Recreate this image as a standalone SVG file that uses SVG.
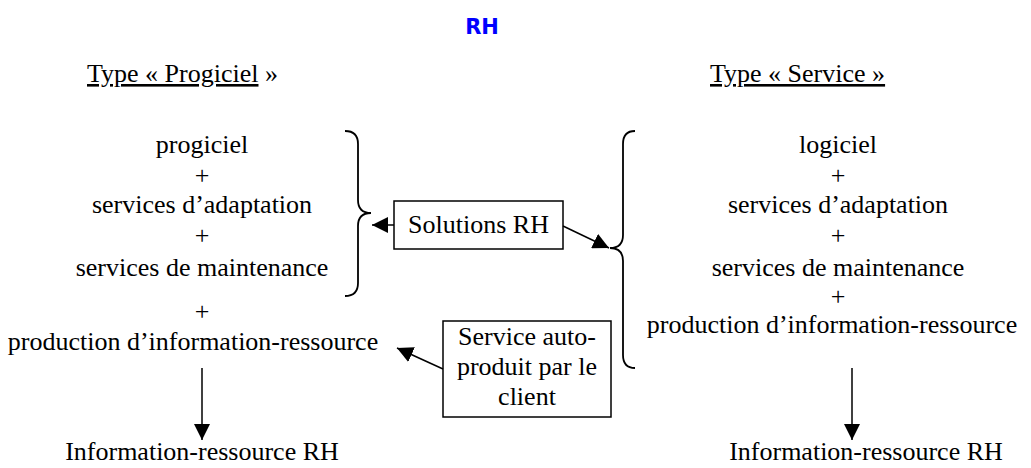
<svg xmlns="http://www.w3.org/2000/svg" width="1031" height="468" viewBox="0 0 1031 468">
  <style>
    .t { font-family: "Liberation Serif", "Times New Roman", serif; font-size: 26px; fill: #000; }
    .c { text-anchor: middle; }
    .u { text-decoration: underline; }
    .title { font-family: "DejaVu Sans", sans-serif; font-weight: bold; font-size: 21px; fill: #0000FF; text-anchor: middle; }
    .box { fill: #fff; stroke: #000; stroke-width: 1.5; }
    .brace { fill: none; stroke: #000; stroke-width: 1.8; }
    .line { fill: none; stroke: #000; stroke-width: 1.5; }
  </style>
  <defs>
    <marker id="ahb" viewBox="0 0 10 10" refX="10" refY="5" markerWidth="16" markerHeight="16" markerUnits="userSpaceOnUse" orient="auto">
      <path d="M0,0 L10,5 L0,10 Z" fill="#000"/>
    </marker>
  </defs>

  <g id="title">
    <text class="title" x="482" y="34">RH</text>
  </g>

  <g id="heading-progiciel">
    <text class="t" x="87" y="82"><tspan class="u">Type « Progiciel</tspan> »</text>
  </g>
  <g id="heading-service">
    <text class="t u" x="710" y="82">Type « Service »</text>
  </g>

  <g id="left-column">
    <text class="t c" x="202" y="153">progiciel</text>
    <text class="t c" x="202" y="184">+</text>
    <text class="t c" x="202" y="213">services d’adaptation</text>
    <text class="t c" x="202" y="244">+</text>
    <text class="t c" x="202" y="276">services de maintenance</text>
    <text class="t c" x="202" y="320">+</text>
    <text class="t c" x="193" y="350">production d’information-ressource</text>
  </g>

  <g id="right-column">
    <text class="t c" x="838" y="153">logiciel</text>
    <text class="t c" x="838" y="184">+</text>
    <text class="t c" x="838" y="213">services d’adaptation</text>
    <text class="t c" x="838" y="244">+</text>
    <text class="t c" x="838" y="276">services de maintenance</text>
    <text class="t c" x="838" y="305">+</text>
    <text class="t c" x="832" y="333">production d’information-ressource</text>
  </g>

  <g id="left-brace">
    <path class="brace" d="M345,131 Q358,131 358,144 L358,200 Q358,213 371,213 Q358,213 358,226 L358,283 Q358,296 345,296"/>
  </g>
  <g id="right-brace">
    <path class="brace" d="M635,131 Q623,131 623,144 L623,235 Q623,248 610,248 Q623,248 623,261 L623,355 Q623,368 635,368"/>
  </g>

  <g id="solutions-rh">
    <rect class="box" x="394" y="201" width="169" height="48"/>
    <text class="t c" x="478.5" y="233">Solutions RH</text>
  </g>

  <g id="service-auto">
    <rect class="box" x="443" y="321" width="168" height="96"/>
    <text class="t c" x="527" y="345">Service auto-</text>
    <text class="t c" x="527" y="375">produit par le</text>
    <text class="t c" x="527" y="405">client</text>
  </g>

  <g id="info-left">
    <text class="t c" x="202" y="460">Information-ressource RH</text>
  </g>
  <g id="info-right">
    <text class="t c" x="866" y="460">Information-ressource RH</text>
  </g>

  <g id="connectors">
    <line class="line" x1="394" y1="225" x2="372" y2="225" marker-end="url(#ahb)"/>
    <line class="line" x1="563" y1="226" x2="609" y2="248" marker-end="url(#ahb)"/>
    <line class="line" x1="443" y1="369" x2="397" y2="348" marker-end="url(#ahb)"/>
    <line class="line" x1="202" y1="368" x2="202" y2="440" marker-end="url(#ahb)"/>
    <line class="line" x1="852" y1="368" x2="852" y2="440" marker-end="url(#ahb)"/>
  </g>
</svg>
